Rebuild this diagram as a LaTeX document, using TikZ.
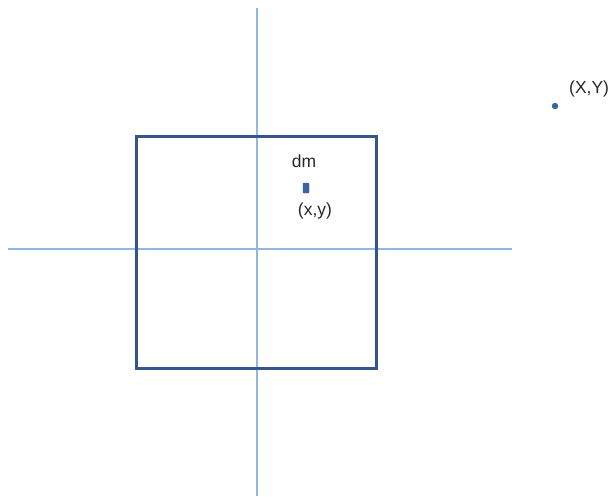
\documentclass[tikz,border=0pt]{standalone}
\usepackage{fontspec}
\setmainfont{Liberation Sans}
\definecolor{axisblue}{RGB}{145,182,224}
\definecolor{boxblue}{RGB}{52,86,140}
\definecolor{dotblue}{RGB}{60,100,160}
\definecolor{txt}{RGB}{40,40,40}
\begin{document}
\begin{tikzpicture}[x=1pt,y=-1pt,
  axis/.style={draw=axisblue,line width=1.4pt},
  sq/.style={draw=boxblue,line width=3pt},
  lbl/.style={text=txt,font=\fontsize{17.5}{20}\selectfont,inner sep=0pt}]
\useasboundingbox (0,0) rectangle (612,496);
\coordinate (vt) at (257,8);
\coordinate (vb) at (257,496);
\coordinate (hl) at (8,249);
\coordinate (hr) at (512,249);
\draw[axis] (vt) -- (vb);
\draw[axis] (hl) -- (hr);
\coordinate (s1) at (136,136);
\coordinate (s2) at (376,368);
\draw[sq] (s1) rectangle (s2);
\node[draw=boxblue,fill=dotblue,rounded corners=1pt,minimum width=6pt,minimum height=10pt,inner sep=0pt] (dm) at (306,188) {};
\node[lbl] (dmlbl) at (304,161) {dm};
\node[lbl] (xy) at (315,211) {(x,y)};
\node[circle,fill=dotblue,minimum size=6.5pt,inner sep=0pt] (P) at (555,106) {};
\node[lbl,anchor=west] (XY) at (569,89) {(X,Y)};
\end{tikzpicture}
\end{document}
